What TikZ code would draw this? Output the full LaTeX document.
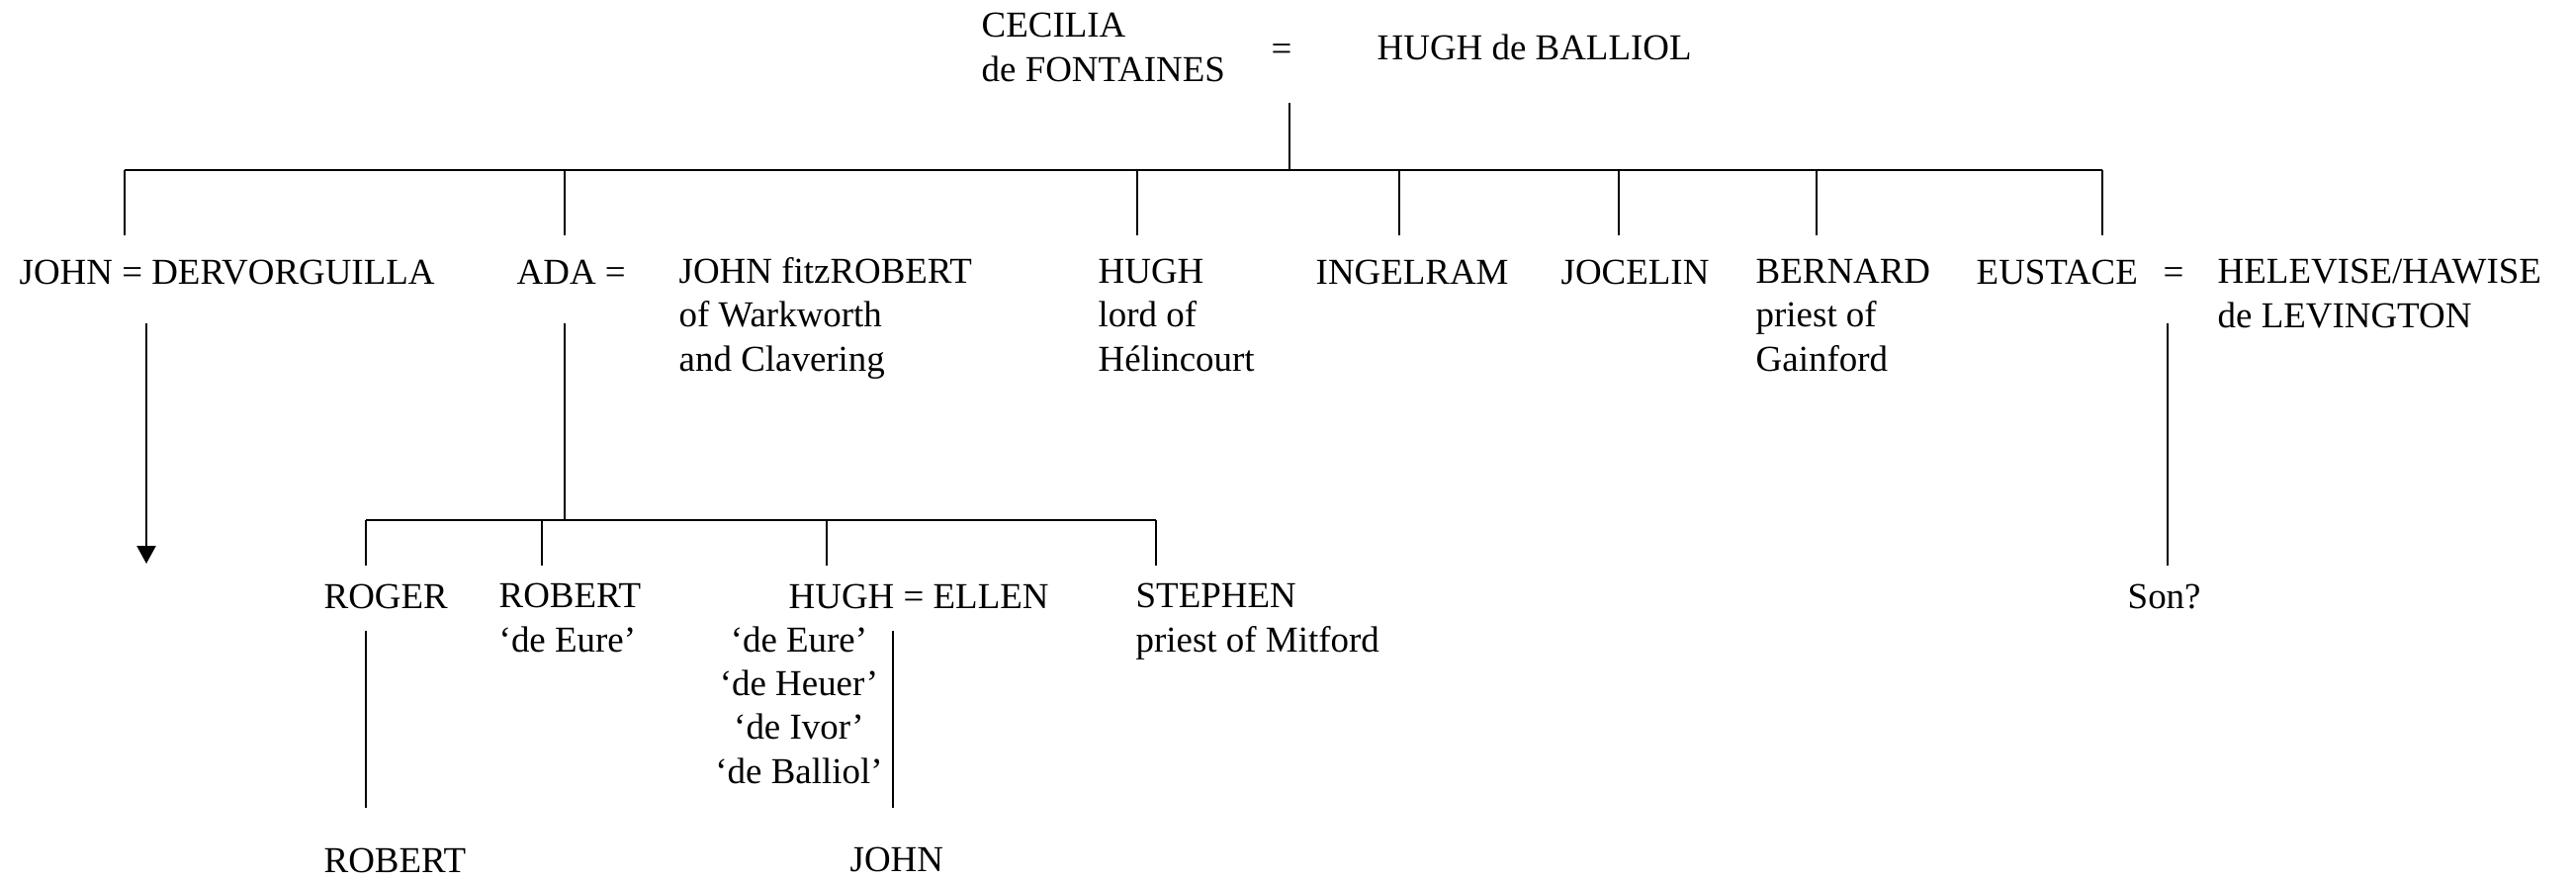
\documentclass[tikz,border=0pt]{standalone}
\usepackage{fontspec}
\setmainfont{Liberation Serif}
\usetikzlibrary{arrows.meta}
\begin{document}
\begin{tikzpicture}[x=0.01cm,y=-0.01cm,
  lbl/.style={inner sep=0pt,anchor=base west,align=left,font=\fontsize{10.5}{12.52}\selectfont},
  lblc/.style={lbl,anchor=base,align=center},
  vln/.style={line width=0.5pt},
  hbar/.style={line width=0.75pt},
  arr/.style={line width=0.6pt,-{Triangle[width=5.4pt,length=5.1pt]}}]
\useasboundingbox (0,0) rectangle (2605,890);
% (multi-line nodes are placed by the baseline of their last line)

% parents
\node[lbl] (cecilia) at (992,82) {CECILIA\\de FONTAINES};
\node[lblc] (eq0) at (1296,61) {=};
\node[lbl] (hughb) at (1392,60) {HUGH de BALLIOL};

\coordinate (m0) at (1304,104);
\coordinate (b0) at (1304,172);
\coordinate (b0l) at (126,172);
\coordinate (b0r) at (2126,172);
\draw[vln] (m0) -- (b0);
\draw[hbar] (b0l) -- (b0r);

% drops to first generation
\coordinate (dJohn) at (126,238);
\coordinate (dAda) at (571,238);
\coordinate (dHugh) at (1150,238);
\coordinate (dIngel) at (1415,238);
\coordinate (dJoc) at (1637,238);
\coordinate (dBern) at (1837,238);
\coordinate (dEust) at (2126,238);
\foreach \d in {dJohn,dAda,dHugh,dIngel,dJoc,dBern,dEust}
  \draw[vln] (\d |- b0) -- (\d);

% first generation
\node[lbl] (john) at (19,287) {JOHN = DERVORGUILLA};
\node[lbl] (ada) at (522,287) {ADA =};
\node[lbl] (fitz) at (686,375) {JOHN fitzROBERT\\of Warkworth\\and Clavering};
\node[lbl] (hugh) at (1110,375) {HUGH\\lord of\\Hélincourt};
\node[lbl] (ingelram) at (1330,287) {INGELRAM};
\node[lbl] (jocelin) at (1578,287) {JOCELIN};
\node[lbl] (bernard) at (1775,375) {BERNARD\\priest of\\Gainford};
\node[lbl] (eustace) at (1998,287) {EUSTACE};
\node[lblc] (eq1) at (2198,287) {=};
\node[lbl] (helevise) at (2242,331) {HELEVISE/HAWISE\\de LEVINGTON};

% descents
\coordinate (jd0) at (148,327);
\coordinate (jd1) at (148,570);
\draw[arr] (jd0) -- (jd1);
\coordinate (ad0) at (571,327);
\coordinate (b1) at (571,526);
\draw[vln] (ad0) -- (b1);
\coordinate (ed0) at (2192,327);
\coordinate (ed1) at (2192,572);
\draw[vln] (ed0) -- (ed1);

% second bar
\coordinate (b1l) at (370,526);
\coordinate (b1r) at (1169,526);
\draw[hbar] (b1l) -- (b1r);
\coordinate (dRoger) at (370,572);
\coordinate (dRobert) at (548,572);
\coordinate (dHugh2) at (836,572);
\coordinate (dSteph) at (1169,572);
\foreach \d in {dRoger,dRobert,dHugh2,dSteph}
  \draw[vln] (\d |- b1) -- (\d);

% second generation
\node[lbl] (roger) at (327,615) {ROGER};
\node[lbl] (robert) at (504,659) {ROBERT\\‘de Eure’};
\node[lbl] (hugh2) at (797,615) {HUGH = ELLEN};
\node[lblc] (nick) at (808,792) {‘de Eure’\\‘de Heuer’\\‘de Ivor’\\‘de Balliol’};
\node[lbl] (stephen) at (1148,659) {STEPHEN\\priest of Mitford};
\node[lbl] (son) at (2151,615) {Son?};

% third generation
\coordinate (rg0) at (370,638);
\coordinate (rg1) at (370,817);
\draw[vln] (rg0) -- (rg1);
\coordinate (hg0) at (903,638);
\coordinate (hg1) at (903,817);
\draw[vln] (hg0) -- (hg1);
\node[lbl] (robert2) at (327,882) {ROBERT};
\node[lbl] (john2) at (859,881) {JOHN};
\end{tikzpicture}
\end{document}
